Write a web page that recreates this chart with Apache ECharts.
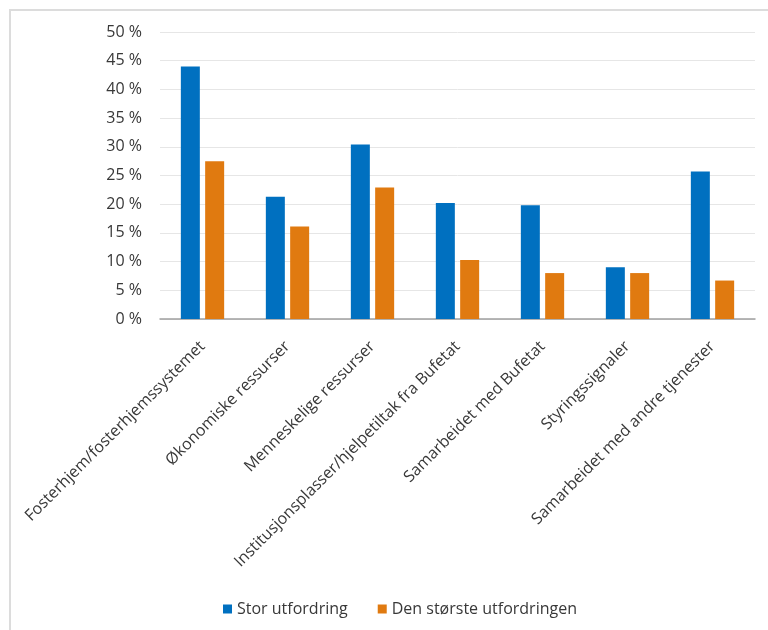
<!DOCTYPE html>
<html>
<head>
<meta charset="utf-8">
<script src="https://cdn.jsdelivr.net/npm/echarts@6/dist/echarts.min.js"></script>
<style>
  html, body { margin: 0; padding: 0; background: #fff; }
  #frame { position: absolute; left: 9px; top: 9px; width: 770px; height: 630px;
           border-left: 2px solid #dcdcdc; border-top: 2px solid #dcdcdc; }
  #chart { position: absolute; left: 0; top: 0; width: 768px; height: 630px; }
</style>
</head>
<body>
<div id="frame"></div>
<div id="chart"></div>
<script>
const categories = [
  'Fosterhjem/fosterhjemssystemet',
  'Økonomiske ressurser',
  'Menneskelige ressurser',
  'Institusjonsplasser/hjelpetiltak fra Bufetat',
  'Samarbeidet med Bufetat',
  'Styringssignaler',
  'Samarbeidet med andre tjenester'
];
const storUtfordring = [44.0, 21.3, 30.4, 20.2, 19.8, 9.0, 25.7];
const denStorsteUtfordringen = [27.5, 16.1, 22.9, 10.3, 8.0, 8.0, 6.7];
const seriesNames = ['Stor utfordring', 'Den største utfordringen'];

const textColor = '#383838';
const font = 'Open Sans';

const chart = echarts.init(document.getElementById('chart'), null, { renderer: 'canvas' });
chart.setOption({
  animation: false,
  backgroundColor: 'transparent',
  grid: { left: 160, right: 13, top: 32, bottom: 311, containLabel: false },
  legend: {
    top: 596,
    left: 218,
    itemWidth: 9,
    itemHeight: 9,
    itemGap: 30,
    icon: 'rect',
    textStyle: { color: textColor, fontFamily: font, fontSize: 16 },
    data: seriesNames
  },
  xAxis: {
    type: 'category',
    data: categories,
    axisLine: { lineStyle: { color: '#a0a0a0', width: 1.5 } },
    axisTick: { show: false },
    axisLabel: {
      rotate: 45,
      interval: 0,
      margin: 25,
      color: textColor,
      fontFamily: font,
      fontSize: 16
    }
  },
  yAxis: {
    type: 'value',
    min: 0,
    max: 50,
    interval: 5,
    axisLine: { show: false },
    axisTick: { show: false },
    splitLine: { lineStyle: { color: '#e6e6e6', width: 1 } },
    axisLabel: {
      formatter: v => v + ' %',
      color: textColor,
      fontFamily: font,
      fontSize: 16,
      margin: 18
    }
  },
  series: [
    {
      name: seriesNames[0],
      type: 'bar',
      data: storUtfordring,
      barWidth: 19,
      barGap: '28%',
      itemStyle: { color: '#0070c0' }
    },
    {
      name: seriesNames[1],
      type: 'bar',
      data: denStorsteUtfordringen,
      barWidth: 19,
      itemStyle: { color: '#e07a10' }
    }
  ]
});
</script>
</body>
</html>
